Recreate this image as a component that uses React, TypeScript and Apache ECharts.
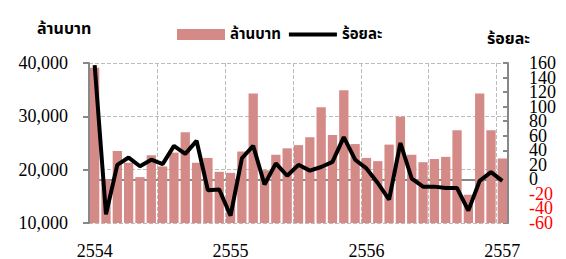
import React, { useEffect, useRef } from "react";
import * as echarts from "echarts";

const categories: string[] = [];
const years = ["2554", "2555", "2556", "2557"];
for (let i = 0; i < 37; i++) {
  categories.push(`${(i % 12) + 1}/${years[Math.floor(i / 12)]}`);
}

const barValues = [
  39100, 18200, 23500, 21300, 18600, 22700, 20600, 23200, 27000, 21300, 22200, 19600,
  19400, 23400, 34300, 19900, 22800, 24000, 24600, 26100, 31700, 26500, 34900, 24800,
  22200, 21600, 24700, 29900, 22800, 21400, 22000, 22400, 27400, 15300, 34300, 27400,
  22100,
];

const lineValues = [
  157, -48, 20, 30, 18, 27, 21, 46, 35, 53, -15, -14,
  -50, 29, 46, -7, 22, 5, 20, 12, 17, 24, 58, 27,
  15, -5, -28, 50, 1, -10, -10, -12, -12, -43, -2, 10,
  -2,
];

const barName = "ล้านบาท";
const lineName = "ร้อยละ";

const serif = "'Liberation Serif', 'Times New Roman', serif";
const thai = "Tahoma, 'Noto Sans Thai', 'Noto Sans', 'DejaVu Sans', sans-serif";

const rightColor = (v: any) => (Number(v) < 0 ? "#ff0000" : "#000");

export default function App() {
  const ref = useRef<HTMLDivElement>(null);
  useEffect(() => {
    if (!ref.current) return;
    const chart = echarts.init(ref.current, undefined, { renderer: "svg" });
    chart.setOption({
      animation: false,
      grid: {
        left: 89,
        right: 58,
        top: 63,
        bottom: 36,
        containLabel: false,
        outerBoundsMode: "none",
      },
      legend: {
        left: 172,
        top: 22,
        itemWidth: 48,
        itemHeight: 11,
        itemGap: 6,
        textStyle: { fontFamily: thai, fontSize: 15, color: "#000", fontWeight: "bold" },
        data: [
          { name: barName, icon: "rect" },
          { name: lineName, itemStyle: { opacity: 0 }, lineStyle: { width: 4, color: "#000" } },
        ],
      },
      graphic: [
        {
          type: "text",
          left: 37,
          top: 21,
          style: { text: barName, font: `bold 16px ${thai}`, fill: "#000" },
        },
        {
          type: "text",
          left: 487,
          top: 31,
          style: { text: lineName, font: `bold 16px ${thai}`, fill: "#000" },
        },
      ],
      xAxis: {
        type: "category",
        data: categories,
        boundaryGap: true,
        axisLine: { lineStyle: { color: "#888", width: 2 } },
        axisTick: { interval: 5, length: 6, lineStyle: { color: "#888", width: 2 } },
        axisLabel: {
          interval: (i: number) => i % 12 === 0,
          formatter: (v: string) => v.split("/")[1],
          fontFamily: serif,
          fontSize: 18,
          color: "#000",
          margin: 19,
        },
        splitLine: {
          show: true,
          interval: 5,
          lineStyle: { color: "#bbb", type: "dashed", width: 1 },
        },
      },
      yAxis: [
        {
          type: "value",
          min: 10000,
          max: 40000,
          interval: 10000,
          axisLine: { show: true, lineStyle: { color: "#888", width: 2 } },
          axisTick: { show: true, length: 6, lineStyle: { color: "#888", width: 2 } },
          axisLabel: {
            fontFamily: serif,
            fontSize: 18,
            color: "#000",
            margin: 21,
            formatter: (v: number) => v.toLocaleString("en-US"),
          },
          splitLine: { show: true, lineStyle: { color: "#bbb", type: "dashed", width: 1 } },
        },
        {
          type: "value",
          position: "right",
          min: -60,
          max: 160,
          interval: 20,
          axisLine: { show: true, lineStyle: { color: "#888", width: 2 } },
          axisTick: { show: true, inside: true, length: 5, lineStyle: { color: "#888", width: 2 } },
          axisLabel: {
            fontFamily: serif,
            fontSize: 18,
            margin: 21,
            showMinLabel: true,
            formatter: (v: number) => (Math.abs(Math.round(v / 20)) % 2 === 1 ? String(v) : ""),
            color: rightColor,
          },
          splitLine: { show: false },
        },
        {
          type: "value",
          position: "right",
          min: -60,
          max: 160,
          interval: 20,
          axisLine: { show: false },
          axisTick: { show: false },
          axisLabel: {
            fontFamily: serif,
            fontSize: 18,
            margin: 21,
            showMaxLabel: true,
            formatter: (v: number) => (Math.abs(Math.round(v / 20)) % 2 === 0 ? String(v) : ""),
            color: rightColor,
          },
          splitLine: { show: false },
        },
      ],
      series: [
        {
          name: barName,
          type: "bar",
          data: barValues,
          barCategoryGap: "18%",
          itemStyle: { color: "#d48a87" },
        },
        {
          name: lineName,
          type: "line",
          yAxisIndex: 1,
          data: lineValues,
          symbol: "none",
          lineStyle: { color: "#000", width: 4 },
          itemStyle: { color: "#000" },
        },
      ],
    });
    return () => chart.dispose();
  }, []);
  return <div ref={ref} style={{ width: 566, height: 259, position: "absolute", left: 0, top: 0 }} />;
}
